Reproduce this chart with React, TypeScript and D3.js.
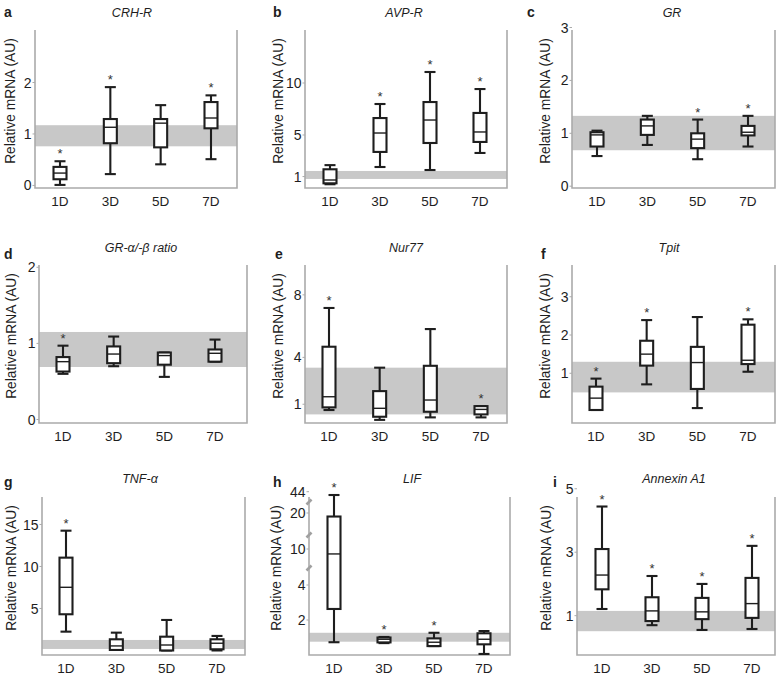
import React from 'react';
import * as d3 from 'd3';

// ---------- DATA ----------
const categories = ['1D', '3D', '5D', '7D'];
// each entry: [low whisker, Q1, median, Q3, high whisker]
const crhR = [[0.01, 0.12, 0.24, 0.36, 0.47], [0.22, 0.82, 1.13, 1.29, 1.91], [0.41, 0.74, 1.21, 1.29, 1.56], [0.51, 1.11, 1.31, 1.62, 1.75]];
const crhRStars = [true, true, false, true];
const crhRBand = [0.76, 1.17];
const crhRTicks = [0, 1, 2];

const avpR = [[0.26, 0.35, 0.67, 1.7, 2.1], [1.92, 3.37, 5.19, 6.63, 7.98], [1.63, 4.23, 6.44, 8.17, 11.06], [3.27, 4.33, 5.29, 7.12, 9.42]];
const avpRStars = [false, true, true, true];
const avpRBand = [0.77, 1.54];
const avpRTicks = [1, 5, 10];

const gr = [[0.57, 0.75, 0.97, 1.02, 1.05], [0.78, 0.97, 1.14, 1.26, 1.33], [0.51, 0.72, 0.89, 1.0, 1.26], [0.75, 0.96, 1.02, 1.14, 1.33]];
const grStars = [false, false, true, true];
const grBand = [0.68, 1.33];
const grTicks = [0, 1, 2, 3];

const grRatio = [[0.6, 0.63, 0.76, 0.82, 0.97], [0.7, 0.74, 0.86, 0.96, 1.09], [0.56, 0.72, 0.84, 0.88, 0.88], [0.76, 0.76, 0.87, 0.92, 1.05]];
const grRatioStars = [true, false, false, false];
const grRatioBand = [0.69, 1.15];
const grRatioTicks = [0, 1, 2];

const nur77 = [[0.63, 0.8, 1.48, 4.68, 7.16], [0.0, 0.2, 0.74, 1.84, 3.34], [0.16, 0.52, 1.27, 3.46, 5.81], [0.16, 0.35, 0.67, 0.88, 0.88]];
const nur77Stars = [true, false, false, true];
const nur77Band = [0.35, 3.34];
const nur77Ticks = [1, 4, 8];

const tpit = [[0.04, 0.04, 0.35, 0.65, 0.86], [0.71, 1.2, 1.5, 1.85, 2.39], [0.09, 0.59, 1.28, 1.69, 2.47], [1.04, 1.24, 1.34, 2.27, 2.41]];
const tpitStars = [true, true, false, true];
const tpitBand = [0.5, 1.3];
const tpitTicks = [1, 2, 3];

const tnfA = [[2.24, 4.31, 7.52, 11.05, 14.26], [0.06, 0.06, 0.54, 1.33, 2.12], [0.0, 0.0, 0.65, 1.64, 3.63], [0.0, 0.14, 0.86, 1.33, 1.73]];
const tnfAStars = [true, false, false, false];
const tnfABand = [0.18, 1.25];
const tnfATicks = [5, 10, 15];

const lif = [[0.73, 2.63, 8.7, 19.2, 39.5], [0.68, 0.72, 0.9, 1.0, 1.03], [0.51, 0.51, 0.73, 0.95, 1.27], [0.06, 0.61, 0.9, 1.24, 1.37]];
const lifStars = [true, true, true, false];
const lifBand = [0.76, 1.27];
const lifTicks = [2, 4, 10, 20, 44];
const lifBreaks = [5, 15, 30];
const lifDomain = [0, 4, 5, 10, 15, 20, 30, 44];

const annexinA1 = [[1.21, 1.83, 2.28, 3.1, 4.44], [0.7, 0.83, 1.15, 1.58, 2.25], [0.55, 0.89, 1.12, 1.56, 2.0], [0.58, 0.93, 1.38, 2.19, 3.2]];
const annexinA1Stars = [true, true, true, true];
const annexinA1Band = [0.51, 1.15];
const annexinA1Ticks = [1, 3, 5];

// ---------- LAYOUT ----------
type Panel = {
  letter: string; title: string; stats: number[][]; stars: boolean[]; band: number[]; ticks: number[];
  domain: number[]; range?: number[]; breaks?: number[];
  left: number; right: number; top: number; bottom: number; x0: number; x1: number;
  letterX: number; letterY: number; titleX: number; titleY: number; ylabX: number;
};

const R1 = { top: 30, bottom: 188, letterY: 17, titleY: 17 };
const R2 = { top: 265, bottom: 423, letterY: 259, titleY: 252 };
const R3 = { top: 497, bottom: 655, letterY: 487, titleY: 483 };

const panels: Panel[] = [
  { letter: 'a', title: 'CRH-R', stats: crhR, stars: crhRStars, band: crhRBand, ticks: crhRTicks, domain: [-0.05, 3.02],
    left: 35, right: 237, ...R1, x0: 60, x1: 211, letterX: 4, titleX: 132, ylabX: 10 },
  { letter: 'b', title: 'AVP-R', stats: avpR, stars: avpRStars, band: avpRBand, ticks: avpRTicks, domain: [-0.1, 15.1],
    left: 305, right: 507, ...R1, x0: 330, x1: 480, letterX: 273, titleX: 404, ylabX: 278 },
  { letter: 'c', title: 'GR', stats: gr, stars: grStars, band: grBand, ticks: grTicks, domain: [-0.034, 2.953],
    left: 572, right: 775, ...R1, x0: 597, x1: 748, letterX: 527, titleX: 672, ylabX: 545 },
  { letter: 'd', title: 'GR-\u03b1/-\u03b2 ratio', stats: grRatio, stars: grRatioStars, band: grRatioBand, ticks: grRatioTicks, domain: [-0.046, 2.03],
    left: 39, right: 247, ...R2, x0: 63, x1: 215, letterX: 4, titleX: 141, ylabX: 11 },
  { letter: 'e', title: 'Nur77', stats: nur77, stars: nur77Stars, band: nur77Band, ticks: nur77Ticks, domain: [-0.2, 9.91],
    left: 305, right: 507, ...R2, x0: 329, x1: 481, letterX: 275, titleX: 406, ylabX: 278 },
  { letter: 'f', title: 'Tpit', stats: tpit, stars: tpitStars, band: tpitBand, ticks: tpitTicks, domain: [-0.3, 3.83],
    left: 572, right: 775, ...R2, x0: 596, x1: 748, letterX: 541, titleX: 669, ylabX: 545 },
  { letter: 'g', title: 'TNF-\u03b1', stats: tnfA, stars: tnfAStars, band: tnfABand, ticks: tnfATicks, domain: [-0.54, 18.27],
    left: 42, right: 245, ...R3, x0: 66, x1: 217, letterX: 4, titleX: 140, ylabX: 11 },
  { letter: 'h', title: 'LIF', stats: lif, stars: lifStars, band: lifBand, ticks: lifTicks, domain: lifDomain,
    range: [655, 585, 568, 549, 535, 513, 502, 491.7], breaks: lifBreaks,
    left: 309, right: 510, ...R3, x0: 334, x1: 484, letterX: 273, titleX: 412, ylabX: 276 },
  { letter: 'i', title: 'Annexin A1', stats: annexinA1, stars: annexinA1Stars, band: annexinA1Band, ticks: annexinA1Ticks, domain: [-0.24, 4.74],
    left: 577, right: 775, ...R3, x0: 602, x1: 752, letterX: 553, titleX: 674, ylabX: 546 },
];

const FONT = 'Arial, "Liberation Sans", Helvetica, sans-serif';
const GREY = '#ababab';
const BAND = '#c8c8c8';
const INK = '#1e1e1e';
const BOX_W = 13;
const CAP_W = 11;

function PanelView({ p }: { p: Panel }) {
  const y = p.range
    ? d3.scaleLinear().domain(p.domain).range(p.range)
    : d3.scaleLinear().domain(p.domain).range([p.bottom, p.top]);
  const x = d3.scalePoint<string>().domain(categories).range([p.x0, p.x1]);
  const midY = (p.top + p.bottom) / 2 - 8;
  return (
    <g>
      <rect x={p.left} width={p.right - p.left} y={y(p.band[1])} height={y(p.band[0]) - y(p.band[1])} fill={BAND} />
      <path d={`M${p.left},${p.top}V${p.bottom}H${p.right}V${p.top}`} fill="none" stroke={GREY} strokeWidth={1.6} />
      {p.ticks.map((t) => (
        <g key={t}>
          <line x1={p.left - 2.5} x2={p.left} y1={y(t)} y2={y(t)} stroke={GREY} strokeWidth={1} />
          <text x={p.left - 3.5} y={y(t)} dy="0.36em" textAnchor="end" fontSize={14} fill={INK} fontFamily={FONT}>{t}</text>
        </g>
      ))}
      {(p.breaks || []).map((b) => (
        <line key={b} x1={p.left - 2.5} x2={p.left + 2.5} y1={y(b) + 2.5} y2={y(b) - 2.5} stroke="#a0a0a0" strokeWidth={2.6} />
      ))}
      {p.stats.map((s, i) => {
        const cx = x(categories[i]) as number;
        const [lo, q1, med, q3, hi] = s;
        return (
          <g key={i}>
            <line x1={cx} x2={cx} y1={y(lo)} y2={y(hi)} stroke={INK} strokeWidth={2.1} />
            <line x1={cx - CAP_W / 2} x2={cx + CAP_W / 2} y1={y(hi)} y2={y(hi)} stroke={INK} strokeWidth={2.1} />
            <line x1={cx - CAP_W / 2} x2={cx + CAP_W / 2} y1={y(lo)} y2={y(lo)} stroke={INK} strokeWidth={2.1} />
            <rect x={cx - BOX_W / 2} width={BOX_W} y={y(q3)} height={Math.max(0.1, y(q1) - y(q3))} fill="#fff" stroke={INK} strokeWidth={2.1} />
            <line x1={cx - BOX_W / 2} x2={cx + BOX_W / 2} y1={y(med)} y2={y(med)} stroke={INK} strokeWidth={1.4} />
            {p.stars[i] && (
              <text x={cx} y={y(hi) - 3} textAnchor="middle" fontSize={13} fill="#333" fontFamily={FONT}>*</text>
            )}
          </g>
        );
      })}
      {categories.map((c) => (
        <text key={c} x={x(c)} y={p.bottom + 18} textAnchor="middle" fontSize={13.5} fill={INK} fontFamily={FONT}>{c}</text>
      ))}
      <text transform={`translate(${p.ylabX},${midY}) rotate(-90)`} textAnchor="middle" dy="0.35em" fontSize={13.8} fill={INK} fontFamily={FONT}>
        Relative mRNA (AU)
      </text>
      <text x={p.titleX} y={p.titleY} textAnchor="middle" fontSize={12.5} fontStyle="italic" fill={INK} fontFamily={FONT}>{p.title}</text>
      <text x={p.letterX} y={p.letterY} fontSize={14} fontWeight="bold" fill={INK} fontFamily={FONT}>{p.letter}</text>
    </g>
  );
}

export default function App() {
  return (
    <svg width={780} height={675} viewBox="0 0 780 675" style={{ position: 'absolute', left: 0, top: 0, background: '#fff' }}>
      <rect width={780} height={675} fill="#fff" />
      {panels.map((p) => (
        <PanelView key={p.letter} p={p} />
      ))}
    </svg>
  );
}
